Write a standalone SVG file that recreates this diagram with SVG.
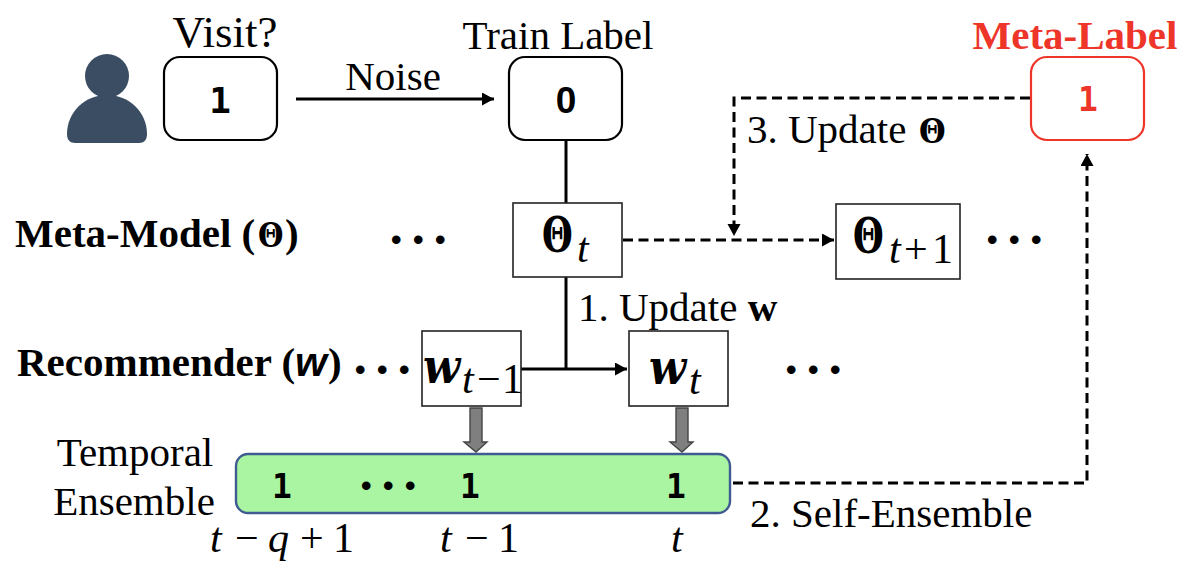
<svg xmlns="http://www.w3.org/2000/svg" width="1182" height="576" viewBox="0 0 1182 576">
<style>
text{font-family:"Liberation Serif","Times New Roman",serif;fill:#000}
.lab{font-size:41px}
.head{font-size:41px;font-weight:bold}
.n1{font-family:"DejaVu Sans Mono",monospace;font-weight:bold;font-size:36px;text-anchor:middle}
.n1s{font-family:"DejaVu Sans Mono",monospace;font-weight:bold;font-size:33px;text-anchor:middle}
.n0{font-family:"Liberation Sans",sans-serif;font-weight:bold;font-size:37px;text-anchor:middle}
.dots{font-family:"Liberation Sans",sans-serif;font-size:30px;font-weight:bold;letter-spacing:11.500px}
.math{font-size:42px}
.it{font-style:italic}
.th{font-family:"DejaVu Serif",serif;font-weight:bold;font-size:49px}
.ths{font-family:"DejaVu Serif",serif;font-weight:bold;font-size:34px}
.mw{font-family:"DejaVu Serif",serif;font-weight:bold;font-style:italic;font-size:48px}
.sub{font-size:42px}
.box{fill:#fff;stroke:#222;stroke-width:1.6}
.rbox{fill:#fff;stroke:#000;stroke-width:2.2}
.solid{fill:none;stroke:#000;stroke-width:3}
.dash{fill:none;stroke:#000;stroke-width:3;stroke-dasharray:10 5.5}
.fat{fill:#7f7f7f;stroke:#444;stroke-width:1.4}
</style>
<defs>
<marker id="ah" markerUnits="userSpaceOnUse" markerWidth="14" markerHeight="14" refX="12" refY="6.5" orient="auto"><path d="M0 0L12 6.5L0 13Z" fill="#000"/></marker>
</defs>
<g id="connectors">
<path class="solid" d="M296 99H494" marker-end="url(#ah)"/>
<path class="solid" d="M566 140V203"/>
<path class="solid" d="M566 277V368"/>
<path class="solid" d="M521 369H627" marker-end="url(#ah)"/>
<path class="dash" d="M623 240H834" marker-end="url(#ah)"/>
<path class="dash" d="M1030 98H734V236" marker-end="url(#ah)"/>
<path class="dash" d="M733 483H1087V154" marker-end="url(#ah)"/>
<path class="fat" d="M470 408H482V442H487L476 452L464 442H470Z"/>
<path class="fat" d="M676 408H688V442H693L682 452L670 442H676Z"/>
</g>
<g id="user">
<circle cx="107" cy="76" r="22" fill="#3b4d62"/>
<path d="M67 134C67 112 85 95 107 95C129 95 147 112 147 134C147 140 144 143 139 143H75C70 143 67 140 67 134Z" fill="#3b4d62"/>
</g>
<g id="visit">
<text class="lab" x="225" y="47" text-anchor="middle" style="font-size:45px">Visit?</text>
<rect class="rbox" x="164" y="57" width="113" height="83" rx="16"/>
<text class="n1" x="220" y="113">1</text>
</g>
<text id="noise" class="lab" x="393" y="90" text-anchor="middle">Noise</text>
<g id="train-label">
<text class="lab" x="558" y="49" text-anchor="middle">Train Label</text>
<rect class="rbox" x="509" y="57" width="113" height="83" rx="16"/>
<text class="n0" x="566" y="113">0</text>
</g>
<g id="meta-label">
<text class="head" x="1075" y="49" text-anchor="middle" style="fill:#ee3529">Meta-Label</text>
<rect x="1031" y="57" width="113" height="83" rx="16" fill="#fff" stroke="#ee3529" stroke-width="2.2"/>
<text class="n1" x="1088" y="111" style="fill:#ee3529;font-size:33px">1</text>
</g>
<g id="update-theta">
<text class="lab" x="747" y="143">3. Update</text>
<text class="ths" transform="translate(919 143) scale(.9 1)">Θ</text>
</g>
<g id="meta-model">
<text class="head" x="15" y="247">Meta-Model (<tspan x="285">)</tspan></text>
<text class="ths" transform="translate(258 247) scale(.86 1)">Θ</text>
</g>
<text class="dots" x="391" y="250">•••</text>
<g id="theta-t">
<rect class="box" x="513" y="203" width="109" height="74"/>
<text class="th" transform="translate(542 252) scale(.72 1)">Θ</text>
<text class="sub it" x="577" y="262">t</text>
</g>
<g id="theta-t1">
<rect class="box" x="836" y="204" width="124" height="75"/>
<text class="th" transform="translate(853 253) scale(.72 1)">Θ</text>
<text class="sub" x="889 904 932" y="263"><tspan class="it">t</tspan>+1</text>
</g>
<text class="dots" x="987" y="250">•••</text>
<text id="update-w" class="lab" x="578" y="321">1. Update <tspan style="font-weight:bold">w</tspan></text>
<g id="recommender">
<text class="head" x="17" y="376">Recommender (<tspan x="328">)</tspan></text>
<text x="295" y="376" style="font-family:'Liberation Sans',sans-serif;font-size:41px;font-weight:bold;font-style:italic">w</text>
</g>
<text class="dots" x="355" y="380">•••</text>
<g id="w-t-1">
<rect class="box" x="422" y="331" width="99" height="75"/>
<text class="mw" transform="translate(423 383) scale(.9 1)">w</text>
<text class="sub" x="462 477 502" y="393"><tspan class="it">t</tspan>−1</text>
</g>
<g id="w-t">
<rect class="box" x="629" y="331" width="99" height="75"/>
<text class="mw" transform="translate(649 384) scale(.9 1)">w</text>
<text class="sub it" x="689" y="394">t</text>
</g>
<text class="dots" x="786" y="380">•••</text>
<text id="temporal" class="lab" x="135" y="466" text-anchor="middle">Temporal</text>
<text id="ensemble" class="lab" x="134" y="515" text-anchor="middle">Ensemble</text>
<g id="ensemble-bar">
<rect x="236" y="454" width="494" height="59" rx="12" fill="#a9f5a1" stroke="#3f5b91" stroke-width="2.4"/>
<text class="n1s" x="282" y="498">1</text>
<text class="dots" x="361" y="496">•••</text>
<text class="n1s" x="470" y="498">1</text>
<text class="n1s" x="676" y="498">1</text>
</g>
<text id="self-ensemble" class="lab" x="750" y="527">2. Self-Ensemble</text>
<text class="math" x="210 235 268 300 333" y="552"><tspan class="it">t</tspan>−<tspan class="it">q</tspan>+1</text>
<text class="math" x="440 465 498" y="552"><tspan class="it">t</tspan>−1</text>
<text class="math it" x="671" y="552">t</text>
</svg>
